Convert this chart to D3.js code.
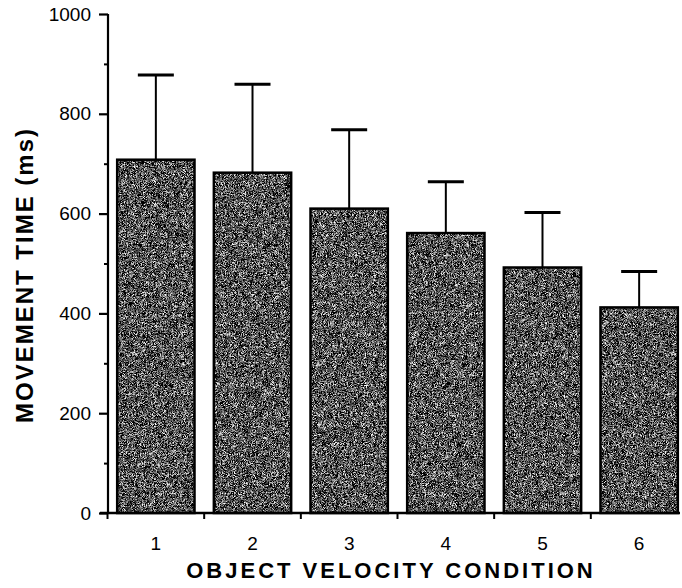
<!DOCTYPE html>
<html>
<head>
<meta charset="utf-8">
<script src="https://cdn.jsdelivr.net/npm/d3@7"></script>
<style>
  body { margin: 0; background: #fff; }
  svg { display: block; font-family: "Liberation Sans", Arial, Helvetica, sans-serif; }
</style>
</head>
<body>
<svg id="chart" width="682" height="588"></svg>
<script>
// values
const conditions = ["1", "2", "3", "4", "5", "6"];
const meanTime = [708, 682, 610, 561, 492, 412];
const errUpper = [878, 859, 768, 664, 602, 484];
const yTicks = [0, 200, 400, 600, 800, 1000];
const yMinorTicks = [100, 300, 500, 700, 900];
const xTitle = "OBJECT VELOCITY CONDITION";
const yTitle = "MOVEMENT TIME (ms)";

const data = conditions.map((c, i) => ({ c, mean: meanTime[i], hi: errUpper[i] }));

const svg = d3.select("#chart");

// noisy grey fill like the printed screen tone
const defs = svg.append("defs");
const grain = defs.append("filter")
  .attr("id", "grain")
  .attr("x", 0).attr("y", 0).attr("width", "100%").attr("height", "100%")
  .attr("color-interpolation-filters", "sRGB");
grain.append("feTurbulence")
  .attr("type", "fractalNoise")
  .attr("baseFrequency", 1.9)
  .attr("numOctaves", 1)
  .attr("seed", 7)
  .attr("result", "noise");
grain.append("feColorMatrix")
  .attr("in", "noise")
  .attr("type", "matrix")
  .attr("values", "0 0 0 2.6 -0.98  0 0 0 2.6 -0.98  0 0 0 2.6 -0.98  0 0 0 0 1")
  .attr("result", "gray");
grain.append("feComposite")
  .attr("in", "gray")
  .attr("in2", "SourceGraphic")
  .attr("operator", "in");

const x = d3.scaleBand()
  .domain(conditions)
  .range([108, 687])
  .paddingInner(0.2)
  .paddingOuter(0.095);

const y = d3.scaleLinear()
  .domain([0, 1000])
  .range([513, 14]);

// bars
const bars = svg.append("g");
bars.selectAll(".bar-fill")
  .data(data)
  .join("rect")
  .attr("class", "bar-fill")
  .attr("x", d => x(d.c))
  .attr("y", d => y(d.mean))
  .attr("width", x.bandwidth())
  .attr("height", d => y(0) - y(d.mean))
  .attr("fill", "#000")
  .attr("filter", "url(#grain)");

bars.selectAll(".bar-edge")
  .data(data)
  .join("rect")
  .attr("class", "bar-edge")
  .attr("x", d => x(d.c))
  .attr("y", d => y(d.mean))
  .attr("width", x.bandwidth())
  .attr("height", d => y(0) - y(d.mean))
  .attr("fill", "none")
  .attr("stroke", "#000")
  .attr("stroke-width", 2.5);

// error bars (upper only)
const capW = 36;
const err = svg.append("g").attr("stroke", "#000");
err.selectAll(".stem")
  .data(data)
  .join("line")
  .attr("x1", d => x(d.c) + x.bandwidth() / 2)
  .attr("x2", d => x(d.c) + x.bandwidth() / 2)
  .attr("y1", d => y(d.mean))
  .attr("y2", d => y(d.hi))
  .attr("stroke-width", 2);
err.selectAll(".cap")
  .data(data)
  .join("line")
  .attr("x1", d => x(d.c) + x.bandwidth() / 2 - capW / 2)
  .attr("x2", d => x(d.c) + x.bandwidth() / 2 + capW / 2)
  .attr("y1", d => y(d.hi))
  .attr("y2", d => y(d.hi))
  .attr("stroke-width", 3);

// y axis
const yAxis = svg.append("g")
  .attr("transform", "translate(108,0)")
  .call(d3.axisLeft(y).tickValues(yTicks).tickSize(9).tickPadding(8).tickFormat(d3.format("d")));
yAxis.select(".domain").attr("stroke-width", 2.2).attr("d", `M0,${y(1000)}V${y(0)}`);
yAxis.selectAll(".tick line").attr("stroke-width", 2.2);
yAxis.selectAll(".tick text").attr("font-size", 19).attr("fill", "#000");

const yMinor = svg.append("g")
  .attr("transform", "translate(108,0)")
  .call(d3.axisLeft(y).tickValues(yMinorTicks).tickSize(4).tickFormat(""));
yMinor.select(".domain").remove();
yMinor.selectAll(".tick line").attr("stroke-width", 2);

// x axis
const xAxis = svg.append("g")
  .attr("transform", `translate(0,${y(0)})`)
  .call(d3.axisBottom(x).tickSize(0).tickPadding(24));
xAxis.select(".domain").attr("stroke-width", 2.5).attr("d", "M100,0H680");
xAxis.selectAll(".tick text").attr("font-size", 19).attr("fill", "#000");

// small ticks between the conditions
const step = x.step();
const bounds = [x(conditions[0]) - step * x.paddingInner() / 2]
  .concat(conditions.slice(0, -1).map(c => x(c) + x.bandwidth() + step * x.paddingInner() / 2));
xAxis.selectAll(".bound")
  .data(bounds)
  .join("line")
  .attr("class", "bound")
  .attr("x1", d => d).attr("x2", d => d)
  .attr("y1", 0).attr("y2", 6)
  .attr("stroke", "#000")
  .attr("stroke-width", 2);

// axis titles
svg.append("text")
  .attr("x", 391)
  .attr("y", 578)
  .attr("text-anchor", "middle")
  .attr("font-size", 22)
  .attr("font-weight", "bold")
  .attr("letter-spacing", 3)
  .text(xTitle);

svg.append("text")
  .attr("transform", "translate(33,275) rotate(-90)")
  .attr("text-anchor", "middle")
  .attr("font-size", 24)
  .attr("font-weight", "bold")
  .attr("letter-spacing", 2)
  .text(yTitle);
</script>
</body>
</html>
